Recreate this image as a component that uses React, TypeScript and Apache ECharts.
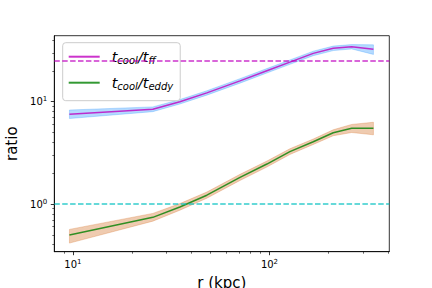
import React, { useEffect, useRef } from 'react';
import * as echarts from 'echarts';

// radial bins (kpc)
const radius = [9.6, 25.5, 35, 48, 70.8, 97, 127, 167, 211, 262, 338];
// t_cool / t_ff
const ffMid = [7.53, 8.43, 10.0, 12.2, 16.0, 20.1, 24.4, 29.7, 33.3, 34.5, 32.5];
const ffLow = [6.85, 8.0, 9.5, 11.6, 15.2, 19.1, 23.2, 28.2, 31.6, 32.8, 29.0];
const ffHigh = [8.3, 8.9, 10.5, 12.8, 16.8, 21.1, 25.6, 31.2, 35.0, 36.2, 36.0];
// t_cool / t_eddy
const eddyMid = [0.498, 0.741, 0.935, 1.22, 1.82, 2.46, 3.25, 4.06, 4.98, 5.5, 5.5];
const eddyLow = [0.415, 0.68, 0.87, 1.14, 1.7, 2.3, 3.05, 3.82, 4.65, 5.0, 4.75];
const eddyHigh = [0.565, 0.81, 1.01, 1.31, 1.95, 2.63, 3.47, 4.32, 5.32, 6.0, 6.3];
// thresholds
const thresholdFF = 25;
const thresholdEddy = 1;
// axes
const xRange = [8.04, 407];
const yRange = [0.342, 44.2];
const xMajor = [10, 100];
const xMinor = [9, 20, 30, 40, 50, 60, 70, 80, 90, 200, 300, 400];
const yMajor = [1, 10];
const yMinor = [0.4, 0.5, 0.6, 0.7, 0.8, 0.9, 2, 3, 4, 5, 6, 7, 8, 9, 20, 30, 40];
const seriesNames = ['t_cool/t_ff', 't_cool/t_eddy'];

const FONT = 'DejaVu Sans';

const tickRich = {
  b: { fontSize: 10, fontFamily: FONT, color: '#000', lineHeight: 12 },
  s: { fontSize: 7, fontFamily: FONT, color: '#000', lineHeight: 7, padding: [0, 0, 5, 0] },
};
const powLabel = (v: number) => `{b|10}{s|${Math.round(Math.log10(v))}}`;

function band(low: number[], high: number[], color: string) {
  return {
    type: 'custom',
    silent: true,
    z: 1,
    clip: true,
    data: radius.map((r, i) => [r, low[i], high[i]]),
    encode: { x: 0, y: [1, 2] },
    renderItem: (params: any, api: any) => {
      if (params.dataIndex !== 0) return null;
      const pts: number[][] = [];
      for (let i = 0; i < radius.length; i++) pts.push(api.coord([radius[i], high[i]]));
      for (let i = radius.length - 1; i >= 0; i--) pts.push(api.coord([radius[i], low[i]]));
      return { type: 'polygon', shape: { points: pts }, style: { fill: color, stroke: color, lineWidth: 0.8 } };
    },
  };
}

export default function App() {
  const ref = useRef<HTMLDivElement>(null);
  useEffect(() => {
    if (!ref.current) return;
    const chart = echarts.init(ref.current, undefined, { renderer: 'svg' });
    const baseX = {
      type: 'log',
      gridIndex: 0,
      position: 'bottom',
      min: xRange[0],
      max: xRange[1],
      splitLine: { show: false },
      minorTick: { show: false },
      minorSplitLine: { show: false },
    };
    const baseY = {
      type: 'log',
      gridIndex: 0,
      position: 'left',
      min: yRange[0],
      max: yRange[1],
      splitLine: { show: false },
      minorTick: { show: false },
      minorSplitLine: { show: false },
    };
    chart.setOption({
      animation: false,
      backgroundColor: '#fff',
      grid: {
        left: 54.3, top: 35.7, width: 335, height: 216,
        outerBoundsMode: 'none',
        containLabel: false,
        show: true, borderColor: '#000', borderWidth: 0.8, backgroundColor: 'transparent',
      },
      legend: {
        left: 62.7, top: 42.7,
        orient: 'vertical',
        data: seriesNames,
        itemWidth: 31, itemHeight: 14, itemGap: 2,
        padding: [2, 7, 6, 5],
        backgroundColor: 'rgba(255,255,255,0.8)',
        borderColor: '#cccccc', borderWidth: 1, borderRadius: 3,
        itemStyle: { color: 'transparent', borderColor: 'transparent', borderWidth: 0, opacity: 0 },
        formatter: (name: string) => {
          const sub = name === seriesNames[0] ? 'ff' : 'eddy';
          return `{m|t}{s|cool}{m|/t}{s|${sub}}`;
        },
        textStyle: {
          rich: {
            m: { fontSize: 14.5, fontStyle: 'italic', fontFamily: FONT, color: '#000', lineHeight: 18, padding: [3, 0, 3, 0] },
            s: { fontSize: 10, fontStyle: 'italic', fontFamily: FONT, color: '#000', lineHeight: 10, padding: [11, 0, 3, 0] },
          },
          padding: [0, 0, 0, 7],
        },
      },
      xAxis: [
        {
          ...baseX,
          name: 'r (kpc)',
          nameLocation: 'middle',
          nameGap: 24,
          nameTextStyle: { fontSize: 15, fontFamily: FONT, color: '#000' },
          axisLine: { show: true, lineStyle: { color: '#000', width: 0.8 } },
          axisTick: { show: true, customValues: xMajor, length: 3.5, lineStyle: { color: '#000', width: 0.8 } },
          axisLabel: { show: true, customValues: xMajor, margin: 7, formatter: powLabel, rich: tickRich },
        },
        {
          ...baseX,
          axisLine: { show: false },
          axisTick: { show: true, customValues: xMinor, length: 2, lineStyle: { color: '#000', width: 0.6 } },
          axisLabel: { show: false },
        },
      ],
      yAxis: [
        {
          ...baseY,
          name: 'ratio',
          nameLocation: 'middle',
          nameGap: 24,
          nameRotate: 90,
          nameTextStyle: { fontSize: 15, fontFamily: FONT, color: '#000' },
          axisLine: { show: true, lineStyle: { color: '#000', width: 0.8 } },
          axisTick: { show: true, customValues: yMajor, length: 3.5, lineStyle: { color: '#000', width: 0.8 } },
          axisLabel: { show: true, customValues: yMajor, margin: 7, formatter: powLabel, rich: tickRich },
        },
        {
          ...baseY,
          axisLine: { show: false },
          axisTick: { show: true, customValues: yMinor, length: 2, lineStyle: { color: '#000', width: 0.6 } },
          axisLabel: { show: false },
        },
      ],
      series: [
        band(ffLow, ffHigh, 'rgba(30,144,255,0.33)'),
        band(eddyLow, eddyHigh, 'rgba(210,105,30,0.35)'),
        {
          name: seriesNames[0],
          type: 'line',
          z: 3,
          symbol: 'none',
          data: radius.map((r, i) => [r, ffMid[i]]),
          lineStyle: { color: 'rgba(191,0,191,0.8)', width: 1.5 },
          itemStyle: { color: 'rgba(191,0,191,0.8)' },
          markLine: {
            silent: true,
            symbol: ['none', 'none'],
            label: { show: false },
            data: [
              { yAxis: thresholdFF, lineStyle: { color: 'rgba(191,0,191,0.8)', width: 1.5, type: [5.5, 2.4] } },
            ],
          },
        },
        {
          name: seriesNames[1],
          type: 'line',
          z: 3,
          symbol: 'none',
          data: radius.map((r, i) => [r, eddyMid[i]]),
          lineStyle: { color: 'rgba(0,128,0,0.8)', width: 1.5 },
          itemStyle: { color: 'rgba(0,128,0,0.8)' },
          markLine: {
            silent: true,
            symbol: ['none', 'none'],
            label: { show: false },
            data: [
              { yAxis: thresholdEddy, lineStyle: { color: 'rgba(0,191,191,0.8)', width: 1.5, type: [5.5, 2.4] } },
            ],
          },
        },
      ],
    });
    return () => chart.dispose();
  }, []);
  return <div ref={ref} style={{ position: 'fixed', left: 0, top: 0, width: 432, height: 288 }} />;
}
